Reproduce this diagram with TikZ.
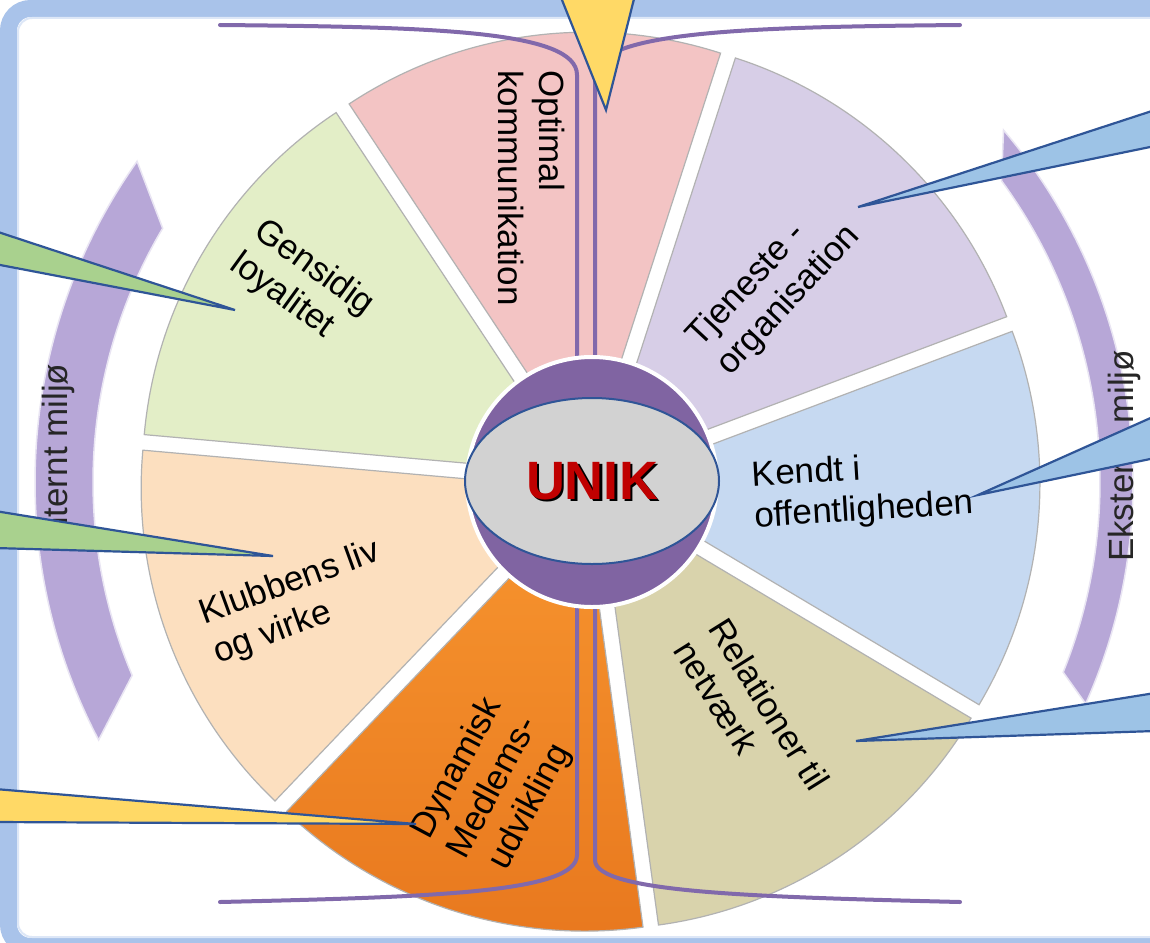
\documentclass[tikz,border=0pt]{standalone}
\usepackage{fontspec}
\setmainfont{Liberation Sans}
\usetikzlibrary{calc,shapes.geometric}
\definecolor{framebl}{HTML}{A9C3EA}
\definecolor{segpink}{HTML}{F3C4C4}
\definecolor{segpurple}{HTML}{D7CEE7}
\definecolor{segblue}{HTML}{C6D9F1}
\definecolor{segtan}{HTML}{D9D3AC}
\definecolor{segorange}{HTML}{F7952F}
\definecolor{segorangedk}{HTML}{E8781E}
\definecolor{segpeach}{HTML}{FCDFBF}
\definecolor{seggreen}{HTML}{E3EEC7}
\definecolor{bandpurple}{HTML}{B7A7D7}
\definecolor{hubpurple}{HTML}{8064A2}
\definecolor{hubgray}{HTML}{D2D2D2}
\definecolor{edgeblue}{HTML}{2F5597}
\definecolor{unikred}{HTML}{C00000}
\definecolor{calgreen}{HTML}{A9D18E}
\definecolor{calblue}{HTML}{9DC3E6}
\definecolor{calyellow}{HTML}{FFD966}
\definecolor{linepurple}{HTML}{8169AB}
\tikzset{
  seg/.style={draw=black!30, line width=1.2},
  segtext/.style={font=\fontsize{35}{41}\selectfont, align=left, inner sep=0pt, text=black},
  bandtext/.style={font=\fontsize{35}{41}\selectfont, inner sep=0pt, rotate=90, text=black!85},
  band/.style={fill=bandpurple, draw=white!70!bandpurple, line width=1.5},
  callout/.style={draw=edgeblue, line width=2.2, line join=miter},
  guide/.style={draw=linepurple, line width=4, line cap=round},
  unik/.style={font=\fontsize{54}{60}\selectfont\bfseries, inner sep=0pt}
}
\begin{document}
\begin{tikzpicture}[x=1pt,y=1pt]
\clip (0,0) rectangle (1150,-942);
\fill[white] (0,0) rectangle (1150,-942);
% frame
\draw[framebl, line width=17, rounded corners=22] (8.5,-8.5) rectangle (1200,-946.5);
\draw[white!60!framebl, line width=2, rounded corners=14] (18,-18) rectangle (1200,-937);

\coordinate (O) at (590,-482);

% environment bands
\path[band] ([shift={(144.7:555)}]O) arc[start angle=144.7, end angle=207.7, radius=555]
  -- ([shift={(202.9:497)}]O) arc[start angle=202.9, end angle=149.3, radius=497] -- cycle;
\path[band] ([shift={(-24.1:543)}]O) arc[start angle=-24.1, end angle=40.4, radius=543]
  -- ([shift={(36.2:510)}]O) arc[start angle=36.2, end angle=-21.9, radius=510] -- cycle;
\node[bandtext] (intern) at (58,-455) {Internt miljø};
\node[bandtext] (ekstern) at (1124,-456) {Eksternt miljø};

% segments
\path[seg, fill=segpink, shift={(O)}, shift={(97.8:18)}] (0,0) -- (72.07:432) arc[start angle=72.07, end angle=123.5, radius=432] -- cycle;
\path[seg, fill=segpurple, shift={(O)}, shift={(46.4:18)}] (0,0) -- (20.64:432) arc[start angle=20.64, end angle=72.07, radius=432] -- cycle;
\path[seg, fill=segblue, shift={(O)}, shift={(-5.1:18)}] (0,0) -- (-30.79:432) arc[start angle=-30.79, end angle=20.64, radius=432] -- cycle;
\path[seg, fill=segtan, shift={(O)}, shift={(-56.5:18)}] (0,0) -- (-82.21:432) arc[start angle=-82.21, end angle=-30.79, radius=432] -- cycle;
\path[seg, top color=segorange, bottom color=segorangedk, shift={(O)}, shift={(-107.9:18)}] (0,0) -- (-133.64:432) arc[start angle=-133.64, end angle=-82.21, radius=432] -- cycle;
\path[seg, fill=segpeach, shift={(O)}, shift={(-159.4:18)}] (0,0) -- (174.93:432) arc[start angle=174.93, end angle=226.36, radius=432] -- cycle;
\path[seg, fill=seggreen, shift={(O)}, shift={(149.2:18)}] (0,0) -- (123.5:432) arc[start angle=123.5, end angle=174.93, radius=432] -- cycle;

% segment labels
\node[segtext, rotate=-90] (optimal) at (532,-188) {Optimal\\kommunikation};
\node[segtext, rotate=47] (tjeneste) at (774,-287) {Tjeneste -\\organisation};
\node[segtext, rotate=3.5] (kendt) at (863,-491) {Kendt i\\offentligheden};
\node[segtext, rotate=-58] (relation) at (752,-715) {Relationer til\\netværk};
\node[segtext, rotate=62, align=center] (dynamisk) at (494,-788) {Dynamisk\\Medlems-\\udvikling};
\node[segtext, rotate=20] (klub) at (297,-603) {Klubbens liv\\og virke};
\node[segtext, rotate=-36] (gensidig) at (302,-285) {Gensidig\\loyalitet};

% guide lines
\draw[guide] (220,-25) .. controls (430,-27) and (577,-30) .. (577,-75) -- (577,-360);
\draw[guide] (960,-25) .. controls (760,-27) and (595,-30) .. (595,-75) -- (595,-360);
\draw[guide] (577,-605) -- (577,-855) .. controls (577,-893) and (430,-897) .. (220,-902);
\draw[guide] (595,-605) -- (595,-860) .. controls (595,-893) and (760,-897) .. (960,-902);

% hub
\node[circle, fill=hubpurple, draw=white, line width=4, minimum size=250, inner sep=0] (hub) at (592,-482) {};
\node[ellipse, fill=hubgray, draw=edgeblue, line width=2, minimum width=254, minimum height=166, inner sep=0] (hubin) at (592,-481) {};
\node[unik] (unik) at (592,-482) {\makebox[0pt][l]{\hspace{2.5pt}\raisebox{-2.5pt}{\color{black}UNIK}}\textcolor{unikred}{UNIK}};

% callouts
\path[callout, fill=calgreen] (-5,-231) -- (235,-310) -- (-5,-264) -- cycle;
\path[callout, fill=calgreen] (-5,-511) -- (273,-556) -- (-5,-548) -- cycle;
\path[callout, fill=calyellow] (-5,-789) -- (416,-824) -- (-5,-822) -- cycle;
\path[callout, fill=calblue] (1155,-110) -- (858,-207) -- (1155,-146) -- cycle;
\path[callout, fill=calblue] (1155,-416) -- (978,-495) -- (1155,-458) -- cycle;
\path[callout, fill=calblue] (1155,-693) -- (856,-741) -- (1155,-731) -- cycle;
\path[callout, fill=calyellow] (560,5) -- (606,-110) -- (635,5) -- cycle;
\end{tikzpicture}
\end{document}
